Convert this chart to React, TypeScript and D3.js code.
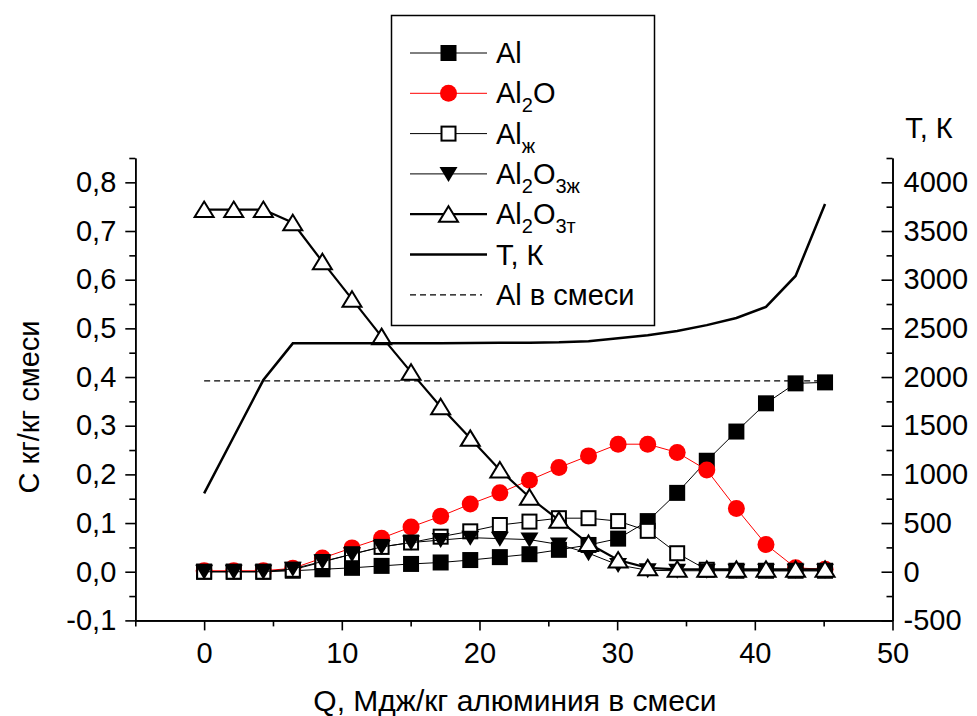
import React, { useEffect, useRef } from 'react';
import * as d3 from 'd3';

// Q, MJ/kg of aluminium in the mixture
const qValues = [0, 2.15, 4.3, 6.44, 8.59, 10.74, 12.89, 15.03, 17.18, 19.33, 21.48, 23.63, 25.77, 27.92, 30.07, 32.22, 34.36, 36.51, 38.66, 40.81, 42.96, 45.1];

// concentrations, kg/kg of mixture
const alValues = [0, 0, 0, 0.002, 0.005, 0.008, 0.012, 0.016, 0.019, 0.024, 0.03, 0.036, 0.045, 0.055, 0.068, 0.104, 0.162, 0.228, 0.288, 0.346, 0.387, 0.389];
const al2oValues = [0.002, 0.002, 0.002, 0.007, 0.028, 0.049, 0.069, 0.092, 0.114, 0.139, 0.162, 0.188, 0.214, 0.238, 0.262, 0.262, 0.245, 0.209, 0.13, 0.056, 0.008, 0.005];
const alLiqValues = [0, 0, 0, 0.004, 0.02, 0.036, 0.051, 0.06, 0.072, 0.083, 0.096, 0.103, 0.11, 0.11, 0.104, 0.084, 0.038, 0.004, 0.002, 0.002, 0.002, 0.002];
const al2o3LiqValues = [0, 0, 0, 0.006, 0.021, 0.036, 0.051, 0.06, 0.065, 0.07, 0.068, 0.066, 0.056, 0.038, 0.014, 0.003, 0.002, 0.002, 0.002, 0.002, 0.002, 0.002];
const al2o3SolValues = [0.744, 0.744, 0.744, 0.717, 0.637, 0.56, 0.483, 0.41, 0.339, 0.274, 0.209, 0.153, 0.106, 0.058, 0.024, 0.008, 0.005, 0.005, 0.005, 0.005, 0.005, 0.005];

// temperature, K (right axis)
const tempValues = [805, 1387, 1969, 2346, 2346, 2346, 2346, 2347, 2348, 2350, 2351, 2353, 2357, 2368, 2398, 2430, 2472, 2533, 2606, 2720, 3038, 3777];

// Al content of the mixture
const alMixValue = 0.392;

const leftTicks = [-0.1, 0, 0.1, 0.2, 0.3, 0.4, 0.5, 0.6, 0.7, 0.8];
const leftMinor = [-0.05, 0.05, 0.15, 0.25, 0.35, 0.45, 0.55, 0.65, 0.75, 0.85];
const rightTicks = [-500, 0, 500, 1000, 1500, 2000, 2500, 3000, 3500, 4000];
const rightMinor = [-250, 250, 750, 1250, 1750, 2250, 2750, 3250, 3750, 4250];
const xTicks = [0, 10, 20, 30, 40, 50];
const xMinor = [-5, 5, 15, 25, 35, 45];

const FONT = '"Liberation Sans", Arial, sans-serif';

const App = () => {
  const svgRef = useRef(null);

  useEffect(() => {
    const svg = d3.select(svgRef.current);
    svg.selectAll('*').remove();

    const x = d3.scaleLinear().domain([-5, 50]).range([135.3, 892.5]);
    const yL = d3.scaleLinear().domain([-0.1, 0.85]).range([620.4, 158]);
    const yR = d3.scaleLinear().domain([-500, 4250]).range([620.4, 158]);
    const comma = d => d3.format('.1f')(d).replace('.', ',').replace('−', '-');

    const styleAxis = g => {
      g.attr('font-family', FONT).attr('font-size', 29);
      g.selectAll('path').attr('stroke', '#000').attr('stroke-width', 1.6);
      g.selectAll('line').attr('stroke', '#000').attr('stroke-width', 1.6);
      g.selectAll('text').attr('fill', '#000');
    };

    // left axis
    svg.append('g')
      .attr('transform', 'translate(135.3,0)')
      .call(d3.axisLeft(yL).tickValues(leftMinor).tickSizeInner(6).tickSizeOuter(0).tickFormat(() => ''))
      .call(styleAxis);
    svg.append('g')
      .attr('transform', 'translate(135.3,0)')
      .call(d3.axisLeft(yL).tickValues(leftTicks).tickSizeInner(10).tickSizeOuter(0).tickPadding(9).tickFormat(comma))
      .call(styleAxis);

    // right axis, ticks pointing inwards
    svg.append('g')
      .attr('transform', 'translate(892.5,0)')
      .call(d3.axisRight(yR).tickValues(rightMinor).tickSizeInner(-6).tickSizeOuter(0).tickFormat(() => ''))
      .call(styleAxis);
    svg.append('g')
      .attr('transform', 'translate(892.5,0)')
      .call(d3.axisRight(yR).tickValues(rightTicks).tickSizeInner(-11).tickSizeOuter(0).tickPadding(11).tickFormat(d => String(d)))
      .call(styleAxis);

    // bottom axis
    svg.append('g')
      .attr('transform', 'translate(0,620.4)')
      .call(d3.axisBottom(x).tickValues(xMinor).tickSizeInner(6).tickSizeOuter(0).tickFormat(() => ''))
      .call(styleAxis);
    svg.append('g')
      .attr('transform', 'translate(0,620.4)')
      .call(d3.axisBottom(x).tickValues(xTicks).tickSizeInner(10).tickSizeOuter(0).tickPadding(12).tickFormat(d => String(d)))
      .call(styleAxis);

    // axis titles
    svg.append('text')
      .attr('x', 515).attr('y', 711)
      .attr('text-anchor', 'middle')
      .attr('font-family', FONT).attr('font-size', 30)
      .text('Q, Мдж/кг алюминия в смеси');
    svg.append('text')
      .attr('transform', 'translate(39,407) rotate(-90)')
      .attr('text-anchor', 'middle')
      .attr('font-family', FONT).attr('font-size', 29)
      .text('С кг/кг смеси');
    svg.append('text')
      .attr('x', 929).attr('y', 138)
      .attr('text-anchor', 'middle')
      .attr('font-family', FONT).attr('font-size', 29)
      .text('T, К');

    const plot = svg.append('g');
    const idx = d3.range(qValues.length);

    const marker = (g, kind) => {
      if (kind === 'sqFill') {
        g.append('rect').attr('x', -8).attr('y', -8).attr('width', 16).attr('height', 16).attr('fill', '#000');
      } else if (kind === 'circle') {
        g.append('circle').attr('r', 8.5).attr('fill', '#ff0000');
      } else if (kind === 'sqOpen') {
        g.append('rect').attr('x', -7).attr('y', -7).attr('width', 14).attr('height', 14)
          .attr('fill', '#fff').attr('stroke', '#000').attr('stroke-width', 2);
      } else if (kind === 'triDown') {
        g.append('path').attr('d', 'M0,8 L9,-7 L-9,-7 Z').attr('fill', '#000');
      } else if (kind === 'triUp') {
        g.append('path').attr('d', 'M0,-8 L9.5,7.5 L-9.5,7.5 Z')
          .attr('fill', '#fff').attr('stroke', '#000').attr('stroke-width', 2).attr('stroke-linejoin', 'miter');
      }
    };

    const series = [
      { values: alValues, color: '#000', width: 1, kind: 'sqFill' },
      { values: al2oValues, color: '#ff0000', width: 1, kind: 'circle' },
      { values: alLiqValues, color: '#000', width: 1, kind: 'sqOpen' },
      { values: al2o3LiqValues, color: '#000', width: 1, kind: 'triDown' },
      { values: al2o3SolValues, color: '#000', width: 2.2, kind: 'triUp' },
    ];

    series.forEach(s => {
      const line = d3.line().x(i => x(qValues[i])).y(i => yL(s.values[i]));
      plot.append('path')
        .attr('d', line(idx))
        .attr('fill', 'none')
        .attr('stroke', s.color)
        .attr('stroke-width', s.width);
      idx.forEach(i => {
        const g = plot.append('g').attr('transform', `translate(${x(qValues[i])},${yL(s.values[i])})`);
        marker(g, s.kind);
      });
    });

    // temperature
    const tLine = d3.line().x(i => x(qValues[i])).y(i => yR(tempValues[i]));
    plot.append('path')
      .attr('d', tLine(idx))
      .attr('fill', 'none')
      .attr('stroke', '#000')
      .attr('stroke-width', 2.5);

    // Al in mixture
    plot.append('line')
      .attr('x1', x(qValues[0])).attr('x2', x(qValues[qValues.length - 1]))
      .attr('y1', yL(alMixValue)).attr('y2', yL(alMixValue))
      .attr('stroke', '#000').attr('stroke-width', 1.2)
      .attr('stroke-dasharray', '6,4');

    // legend
    const legend = svg.append('g');
    legend.append('rect')
      .attr('x', 391.5).attr('y', 15.5).attr('width', 263).attr('height', 310)
      .attr('fill', '#fff').attr('stroke', '#000').attr('stroke-width', 1.5);

    const items = [
      { label: [['Al', 0]], color: '#000', width: 1, kind: 'sqFill' },
      { label: [['Al', 0], ['2', 1], ['O', 0]], color: '#ff0000', width: 1, kind: 'circle' },
      { label: [['Al', 0], ['ж', 1]], color: '#000', width: 1, kind: 'sqOpen' },
      { label: [['Al', 0], ['2', 1], ['O', 0], ['3ж', 1]], color: '#000', width: 1, kind: 'triDown' },
      { label: [['Al', 0], ['2', 1], ['O', 0], ['3т', 1]], color: '#000', width: 2.2, kind: 'triUp' },
      { label: [['T, К', 0]], color: '#000', width: 2.5, kind: 'none' },
      { label: [['Al в смеси', 0]], color: '#000', width: 1.2, kind: 'dash' },
    ];

    items.forEach((it, k) => {
      const cy = 53 + k * 40.3;
      const ln = legend.append('line')
        .attr('x1', 410).attr('x2', it.kind === 'dash' ? 482 : 487)
        .attr('y1', cy).attr('y2', cy)
        .attr('stroke', it.color).attr('stroke-width', it.width);
      if (it.kind === 'dash') ln.attr('stroke-dasharray', '6,4');
      const g = legend.append('g').attr('transform', `translate(448.5,${cy})`);
      marker(g, it.kind);

      const t = legend.append('text')
        .attr('x', 496).attr('y', cy + 10)
        .attr('font-family', FONT).attr('font-size', 29);
      let sub = false;
      it.label.forEach(([str, isSub]) => {
        const sp = t.append('tspan').text(str);
        if (isSub && !sub) sp.attr('dy', 9).attr('font-size', 20);
        else if (isSub) sp.attr('font-size', 20);
        else if (!isSub && sub) sp.attr('dy', -9);
        sub = !!isSub;
      });
    });
  }, []);

  return (
    <svg
      ref={svgRef}
      width={977}
      height={716}
      style={{ position: 'absolute', left: 0, top: 0, background: '#fff' }}
    />
  );
};

export default App;
